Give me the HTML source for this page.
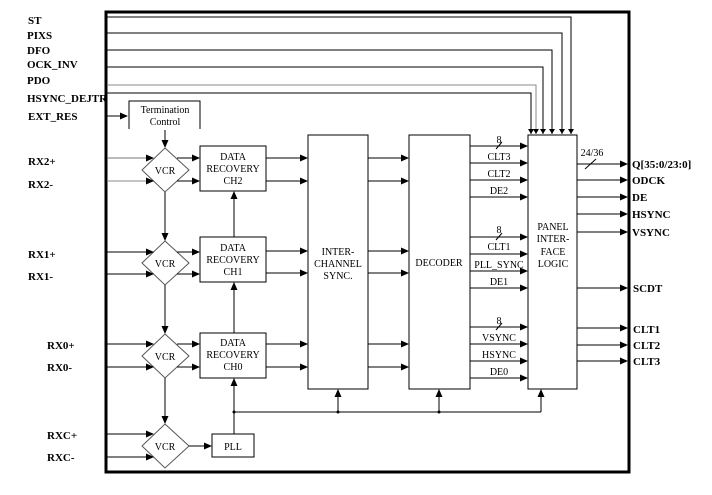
<!DOCTYPE html>
<html><head><meta charset="utf-8"><style>
body{margin:0;background:#fff;}
svg{display:block;}
text{font-family:"Liberation Serif",serif;fill:#000;}
.p{font-size:11px;font-weight:bold;}
.i{font-size:10px;}
</style></head><body>
<svg width="712" height="495" viewBox="0 0 712 495" xmlns="http://www.w3.org/2000/svg">
<defs>
<marker id="a" markerWidth="8" markerHeight="8" refX="7" refY="4" orient="auto" markerUnits="userSpaceOnUse">
<path d="M0,0.5 L8,4 L0,7.5 Z" fill="#000"/></marker>
<marker id="s" markerWidth="6" markerHeight="6" refX="5" refY="3" orient="auto" markerUnits="userSpaceOnUse">
<path d="M0,0 L5,3 L0,6 Z" fill="#000"/></marker>
</defs>
<g stroke="#000" stroke-width="1" fill="none">
<rect x="106" y="12" width="523" height="460" stroke-width="3"/>
<!-- top control lines -->
<polyline points="107,17 571,17 571,134" marker-end="url(#s)"/>
<polyline points="107,33 562,33 562,134" marker-end="url(#s)"/>
<polyline points="107,50 552,50 552,134" marker-end="url(#s)"/>
<polyline points="107,67 543,67 543,134" marker-end="url(#s)"/>
<polyline points="107,85 536,85 536,134" marker-end="url(#s)" stroke="#888"/>
<polyline points="107,93 531,93 531,134" marker-end="url(#s)"/>
<!-- termination -->
<line x1="107" y1="116" x2="127" y2="116" marker-end="url(#a)"/>
<polyline points="129,129 129,101 200,101 200,129"/>
<line x1="165" y1="130" x2="165" y2="147" marker-end="url(#a)"/>
<!-- diamonds -->
<polygon points="165,148 189,170 165,192 142,170" stroke="#555"/>
<polygon points="165,241 189,263 165,285 142,263" stroke="#555"/>
<polygon points="165,334 189,356 165,378 142,356" stroke="#555"/>
<polygon points="165,424 189,446 165,468 142,446" stroke="#555"/>
<line x1="165" y1="192" x2="165" y2="240" marker-end="url(#a)"/>
<line x1="165" y1="285" x2="165" y2="333" marker-end="url(#a)"/>
<line x1="165" y1="378" x2="165" y2="423" marker-end="url(#a)"/>
<!-- inputs -->
<line x1="107" y1="158" x2="153" y2="158" marker-end="url(#a)" stroke="#777"/>
<line x1="107" y1="181" x2="153" y2="181" marker-end="url(#a)" stroke="#888"/>
<line x1="107" y1="252" x2="153" y2="252" marker-end="url(#a)"/>
<line x1="107" y1="274" x2="153" y2="274" marker-end="url(#a)"/>
<line x1="107" y1="344" x2="153" y2="344" marker-end="url(#a)"/>
<line x1="107" y1="367" x2="153" y2="367" marker-end="url(#a)"/>
<line x1="107" y1="434" x2="153" y2="434" marker-end="url(#a)"/>
<line x1="107" y1="457" x2="153" y2="457" marker-end="url(#a)"/>
<!-- VCR to DR -->
<line x1="177" y1="158" x2="199" y2="158" marker-end="url(#a)"/>
<line x1="177" y1="181" x2="199" y2="181" marker-end="url(#a)"/>
<line x1="177" y1="252" x2="199" y2="252" marker-end="url(#a)"/>
<line x1="177" y1="274" x2="199" y2="274" marker-end="url(#a)"/>
<line x1="177" y1="344" x2="199" y2="344" marker-end="url(#a)"/>
<line x1="177" y1="367" x2="199" y2="367" marker-end="url(#a)"/>
<line x1="189" y1="446" x2="211" y2="446" marker-end="url(#a)"/>
<!-- DR boxes -->
<rect x="200" y="146" width="66" height="45"/>
<rect x="200" y="237" width="66" height="45"/>
<rect x="200" y="333" width="66" height="45"/>
<rect x="212" y="434" width="42" height="23"/>
<line x1="234" y1="237" x2="234" y2="192" marker-end="url(#a)"/>
<line x1="234" y1="333" x2="234" y2="283" marker-end="url(#a)"/>
<line x1="234" y1="434" x2="234" y2="379" marker-end="url(#a)"/>
<!-- bus -->
<line x1="234" y1="412" x2="541" y2="412"/>
<line x1="338" y1="412" x2="338" y2="390" marker-end="url(#a)"/>
<line x1="439" y1="412" x2="439" y2="390" marker-end="url(#a)"/>
<line x1="541" y1="412" x2="541" y2="390" marker-end="url(#a)"/>
<!-- DR to sync, sync to decoder -->
<g marker-end="url(#a)">
<line x1="266" y1="158" x2="307" y2="158"/><line x1="266" y1="181" x2="307" y2="181"/>
<line x1="266" y1="251" x2="307" y2="251"/><line x1="266" y1="273" x2="307" y2="273"/>
<line x1="266" y1="344" x2="307" y2="344"/><line x1="266" y1="367" x2="307" y2="367"/>
<line x1="368" y1="158" x2="408" y2="158"/><line x1="368" y1="181" x2="408" y2="181"/>
<line x1="368" y1="251" x2="408" y2="251"/><line x1="368" y1="273" x2="408" y2="273"/>
<line x1="368" y1="344" x2="408" y2="344"/><line x1="368" y1="367" x2="408" y2="367"/>
<!-- decoder outputs -->
<line x1="470" y1="146" x2="527" y2="146"/><line x1="470" y1="163" x2="527" y2="163"/>
<line x1="470" y1="180" x2="527" y2="180"/><line x1="470" y1="197" x2="527" y2="197"/>
<line x1="470" y1="237" x2="527" y2="237"/><line x1="470" y1="254" x2="527" y2="254"/>
<line x1="470" y1="271" x2="527" y2="271"/><line x1="470" y1="288" x2="527" y2="288"/>
<line x1="470" y1="327" x2="527" y2="327"/><line x1="470" y1="344" x2="527" y2="344"/>
<line x1="470" y1="361" x2="527" y2="361"/><line x1="470" y1="378" x2="527" y2="378"/>
<!-- panel outputs -->
<line x1="577" y1="164" x2="627" y2="164"/><line x1="577" y1="180" x2="627" y2="180"/>
<line x1="577" y1="197" x2="627" y2="197"/><line x1="577" y1="214" x2="627" y2="214"/>
<line x1="577" y1="232" x2="627" y2="232"/><line x1="577" y1="288" x2="627" y2="288"/>
<line x1="577" y1="328" x2="627" y2="328"/><line x1="577" y1="345" x2="627" y2="345"/>
<line x1="577" y1="361" x2="627" y2="361"/>
</g>
<rect x="308" y="135" width="60" height="254"/>
<rect x="409" y="135" width="61" height="254"/>
<rect x="528" y="135" width="49" height="254"/>
<!-- slashes -->
<line x1="496" y1="149" x2="502" y2="142"/>
<line x1="496" y1="240" x2="502" y2="233"/>
<line x1="496" y1="330" x2="502" y2="323"/>
<line x1="585" y1="169" x2="596" y2="159"/>
</g>
<g fill="#000">
<circle cx="234" cy="412" r="1.5"/><circle cx="338" cy="412" r="1.5"/><circle cx="439" cy="412" r="1.5"/>
</g>
<!-- pin labels -->
<g class="p">
<text x="28" y="24" class="p">ST</text>
<text x="27" y="39" class="p">PIXS</text>
<text x="27" y="54" class="p">DFO</text>
<text x="27" y="68" class="p">OCK_INV</text>
<text x="27" y="84" class="p">PDO</text>
<text x="27" y="102" class="p">HSYNC_DEJTR</text>
<text x="28" y="120" class="p">EXT_RES</text>
<text x="28" y="165" class="p">RX2+</text>
<text x="28" y="188" class="p">RX2-</text>
<text x="28" y="258" class="p">RX1+</text>
<text x="28" y="280" class="p">RX1-</text>
<text x="47" y="349" class="p">RX0+</text>
<text x="47" y="371" class="p">RX0-</text>
<text x="47" y="439" class="p">RXC+</text>
<text x="47" y="461" class="p">RXC-</text>
<text x="632" y="168" class="p">Q[35:0/23:0]</text>
<text x="632" y="184" class="p">ODCK</text>
<text x="632" y="201" class="p">DE</text>
<text x="632" y="218" class="p">HSYNC</text>
<text x="632" y="236" class="p">VSYNC</text>
<text x="633" y="292" class="p">SCDT</text>
<text x="633" y="333" class="p">CLT1</text>
<text x="633" y="349" class="p">CLT2</text>
<text x="633" y="365" class="p">CLT3</text>
</g>
<g class="i" text-anchor="middle">
<text x="165" y="113" class="i">Termination</text>
<text x="165" y="125" class="i">Control</text>
<text x="165" y="174" class="i">VCR</text>
<text x="165" y="267" class="i">VCR</text>
<text x="165" y="360" class="i">VCR</text>
<text x="165" y="450" class="i">VCR</text>
<text x="233" y="160" class="i">DATA</text>
<text x="233" y="172" class="i">RECOVERY</text>
<text x="233" y="184" class="i">CH2</text>
<text x="233" y="251" class="i">DATA</text>
<text x="233" y="263" class="i">RECOVERY</text>
<text x="233" y="275" class="i">CH1</text>
<text x="233" y="346" class="i">DATA</text>
<text x="233" y="358" class="i">RECOVERY</text>
<text x="233" y="370" class="i">CH0</text>
<text x="233" y="450" class="i">PLL</text>
<text x="338" y="255" class="i">INTER-</text>
<text x="338" y="267" class="i">CHANNEL</text>
<text x="338" y="279" class="i">SYNC.</text>
<text x="439" y="266" class="i">DECODER</text>
<text x="553" y="230" class="i">PANEL</text>
<text x="553" y="242" class="i">INTER-</text>
<text x="553" y="255" class="i">FACE</text>
<text x="553" y="267" class="i">LOGIC</text>
<text x="499" y="143" class="i">8</text>
<text x="499" y="160" class="i">CLT3</text>
<text x="499" y="177" class="i">CLT2</text>
<text x="499" y="194" class="i">DE2</text>
<text x="499" y="233" class="i">8</text>
<text x="499" y="250" class="i">CLT1</text>
<text x="499" y="268" class="i">PLL_SYNC</text>
<text x="499" y="285" class="i">DE1</text>
<text x="499" y="324" class="i">8</text>
<text x="499" y="341" class="i">VSYNC</text>
<text x="499" y="358" class="i">HSYNC</text>
<text x="499" y="375" class="i">DE0</text>
<text x="592" y="156" class="i">24/36</text>
</g>
</svg>
</body></html>
